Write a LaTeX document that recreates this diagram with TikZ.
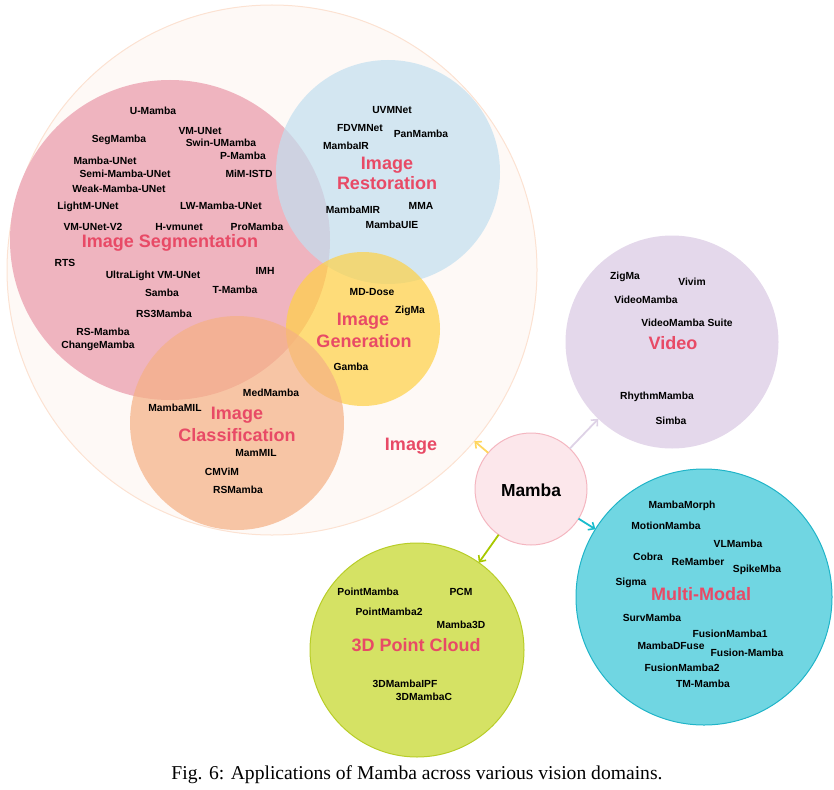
\documentclass[tikz,border=0pt]{standalone}
\usepackage{fontspec}
\setmainfont{Liberation Sans}
\newfontfamily\capfont{Liberation Serif}
\usetikzlibrary{arrows.meta}
\definecolor{bigfill}{RGB}{254,249,246}
\definecolor{bigline}{RGB}{252,226,210}
\definecolor{segfill}{RGB}{239,180,191}
\definecolor{resfill}{RGB}{193,223,240}
\definecolor{genfill}{RGB}{255,209,69}
\definecolor{clsfill}{RGB}{245,176,132}
\definecolor{vidfill}{RGB}{228,216,235}
\definecolor{mamfill}{RGB}{252,231,235}
\definecolor{mamline}{RGB}{244,182,192}
\definecolor{mmfill}{RGB}{112,214,226}
\definecolor{mmline}{RGB}{32,180,200}
\definecolor{pcfill}{RGB}{213,226,100}
\definecolor{pcline}{RGB}{184,205,40}
\definecolor{lab}{RGB}{232,74,102}
\definecolor{aimg}{RGB}{255,214,95}
\definecolor{avid}{RGB}{222,210,230}
\definecolor{amm}{RGB}{25,188,205}
\definecolor{apc}{RGB}{168,200,0}
\tikzset{
  disc/.style={circle, inner sep=0pt, outer sep=0pt},
  item/.style={font=\fontsize{10.3}{12}\selectfont\bfseries, text=black, inner sep=0pt, anchor=base, yshift=-3.7pt},
  big/.style={font=\fontsize{18}{20}\selectfont\bfseries, text=lab, inner sep=0pt, anchor=base, yshift=-6.4pt},
  arr/.style={line width=1.8pt, -{Straight Barb[length=5pt,width=9pt,line width=1.6pt]}}
}
\begin{document}
\begin{tikzpicture}[x=1pt,y=-1pt]
\useasboundingbox (0,0) rectangle (834,789);
% circles
\node[disc, minimum size=530pt, fill=bigfill, draw=bigline, line width=1pt] (img) at (272,270) {};
\node[disc, minimum size=320pt, fill=segfill] (seg) at (170,240) {};
\node[disc, minimum size=224pt, fill=resfill, fill opacity=0.7] (res) at (388,172) {};
\node[disc, minimum size=154pt, fill=genfill, fill opacity=0.7] (gen) at (363,329) {};
\node[disc, minimum size=214pt, fill=clsfill, fill opacity=0.7] (cls) at (237,423) {};
\node[disc, minimum size=213pt, fill=vidfill] (vid) at (672,342) {};
\node[disc, minimum size=112pt, fill=mamfill, draw=mamline, line width=1pt] (mam) at (531,489) {};
\node[disc, minimum size=256pt, fill=mmfill, draw=mmline, line width=1pt] (mm) at (704,597) {};
\node[disc, minimum size=214pt, fill=pcfill, draw=pcline, line width=1pt] (pc) at (417,650) {};
% arrows
\draw[arr, aimg] (mam) -- (img);
\draw[arr, avid] (mam) -- (vid);
\draw[arr, amm] (mam) -- (mm);
\draw[arr, apc] (mam) -- (pc);
% Mamba
\node[font=\fontsize{17.4}{20}\selectfont\bfseries, inner sep=0pt, anchor=base, yshift=-6.2pt] (mamt) at (531,490) {Mamba};
% segmentation
\node[item] (s1) at (153,111) {U-Mamba};
\node[item] (s2) at (119,139) {SegMamba};
\node[item] (s3) at (200,131) {VM-UNet};
\node[item] (s4) at (221,143) {Swin-UMamba};
\node[item] (s5) at (243,156) {P-Mamba};
\node[item] (s6) at (105,161) {Mamba-UNet};
\node[item] (s7) at (125,174) {Semi-Mamba-UNet};
\node[item] (s8) at (249,174) {MiM-ISTD};
\node[item] (s9) at (119,189) {Weak-Mamba-UNet};
\node[item] (s10) at (88,206) {LightM-UNet};
\node[item] (s11) at (221,206) {LW-Mamba-UNet};
\node[item] (s12) at (93,227) {VM-UNet-V2};
\node[item] (s13) at (179,227) {H-vmunet};
\node[item] (s14) at (257,227) {ProMamba};
\node[big] (segl) at (170,241) {Image Segmentation};
\node[item] (s15) at (65,263) {RTS};
\node[item] (s16) at (153,275) {UltraLight VM-UNet};
\node[item] (s17) at (265,271) {IMH};
\node[item] (s18) at (162,293) {Samba};
\node[item] (s19) at (235,290) {T-Mamba};
\node[item] (s20) at (164,314) {RS3Mamba};
\node[item] (s21) at (103,332) {RS-Mamba};
\node[item] (s22) at (98,345) {ChangeMamba};
% restoration
\node[item] (r1) at (392,110) {UVMNet};
\node[item] (r2) at (360,128) {FDVMNet};
\node[item] (r3) at (421,134) {PanMamba};
\node[item] (r4) at (346,146) {MambaIR};
\node[big] (resl1) at (387,163) {Image};
\node[big] (resl2) at (387,183) {Restoration};
\node[item] (r5) at (353,210) {MambaMIR};
\node[item] (r6) at (421,206) {MMA};
\node[item] (r7) at (392,225) {MambaUIE};
% generation
\node[item] (g1) at (372,292) {MD-Dose};
\node[item] (g2) at (410,310) {ZigMa};
\node[big] (genl1) at (363,319) {Image};
\node[big] (genl2) at (364,341) {Generation};
\node[item] (g3) at (351,367) {Gamba};
% classification
\node[item] (c1) at (271,393) {MedMamba};
\node[item] (c2) at (175,408) {MambaMIL};
\node[big] (clsl1) at (237,413) {Image};
\node[big] (clsl2) at (237,435) {Classification};
\node[item] (c3) at (256,453) {MamMIL};
\node[item] (c4) at (222,472) {CMViM};
\node[item] (c5) at (238,490) {RSMamba};
\node[big] (imgl) at (411,444) {Image};
% video
\node[item] (v1) at (625,276) {ZigMa};
\node[item] (v2) at (692,282) {Vivim};
\node[item] (v3) at (646,300) {VideoMamba};
\node[item] (v4) at (687,323) {VideoMamba Suite};
\node[big] (vidl) at (673,343) {Video};
\node[item] (v5) at (657,396) {RhythmMamba};
\node[item] (v6) at (671,421) {Simba};
% multi-modal
\node[item] (m1) at (682,505) {MambaMorph};
\node[item] (m2) at (666,526) {MotionMamba};
\node[item] (m3) at (738,544) {VLMamba};
\node[item] (m4) at (648,557) {Cobra};
\node[item] (m5) at (698,562) {ReMamber};
\node[item] (m6) at (757,569) {SpikeMba};
\node[item] (m7) at (631,582) {Sigma};
\node[big] (mml) at (701,594) {Multi-Modal};
\node[item] (m8) at (652,618) {SurvMamba};
\node[item] (m9) at (730,634) {FusionMamba1};
\node[item] (m10) at (671,646) {MambaDFuse};
\node[item] (m11) at (747,653) {Fusion-Mamba};
\node[item] (m12) at (682,668) {FusionMamba2};
\node[item] (m13) at (703,684) {TM-Mamba};
% point cloud
\node[item] (p1) at (368,592) {PointMamba};
\node[item] (p2) at (461,592) {PCM};
\node[item] (p3) at (389,612) {PointMamba2};
\node[item] (p4) at (461,625) {Mamba3D};
\node[big] (pcl) at (416,645) {3D Point Cloud};
\node[item] (p5) at (405,684) {3DMambaIPF};
\node[item] (p6) at (424,697) {3DMambaC};
% caption
\node[font=\capfont\fontsize{19.6}{22}\selectfont, inner sep=0pt, anchor=base, yshift=-6.5pt] (cap) at (417,773) {Fig. 6: Applications of Mamba across various vision domains.};
\end{tikzpicture}
\end{document}
